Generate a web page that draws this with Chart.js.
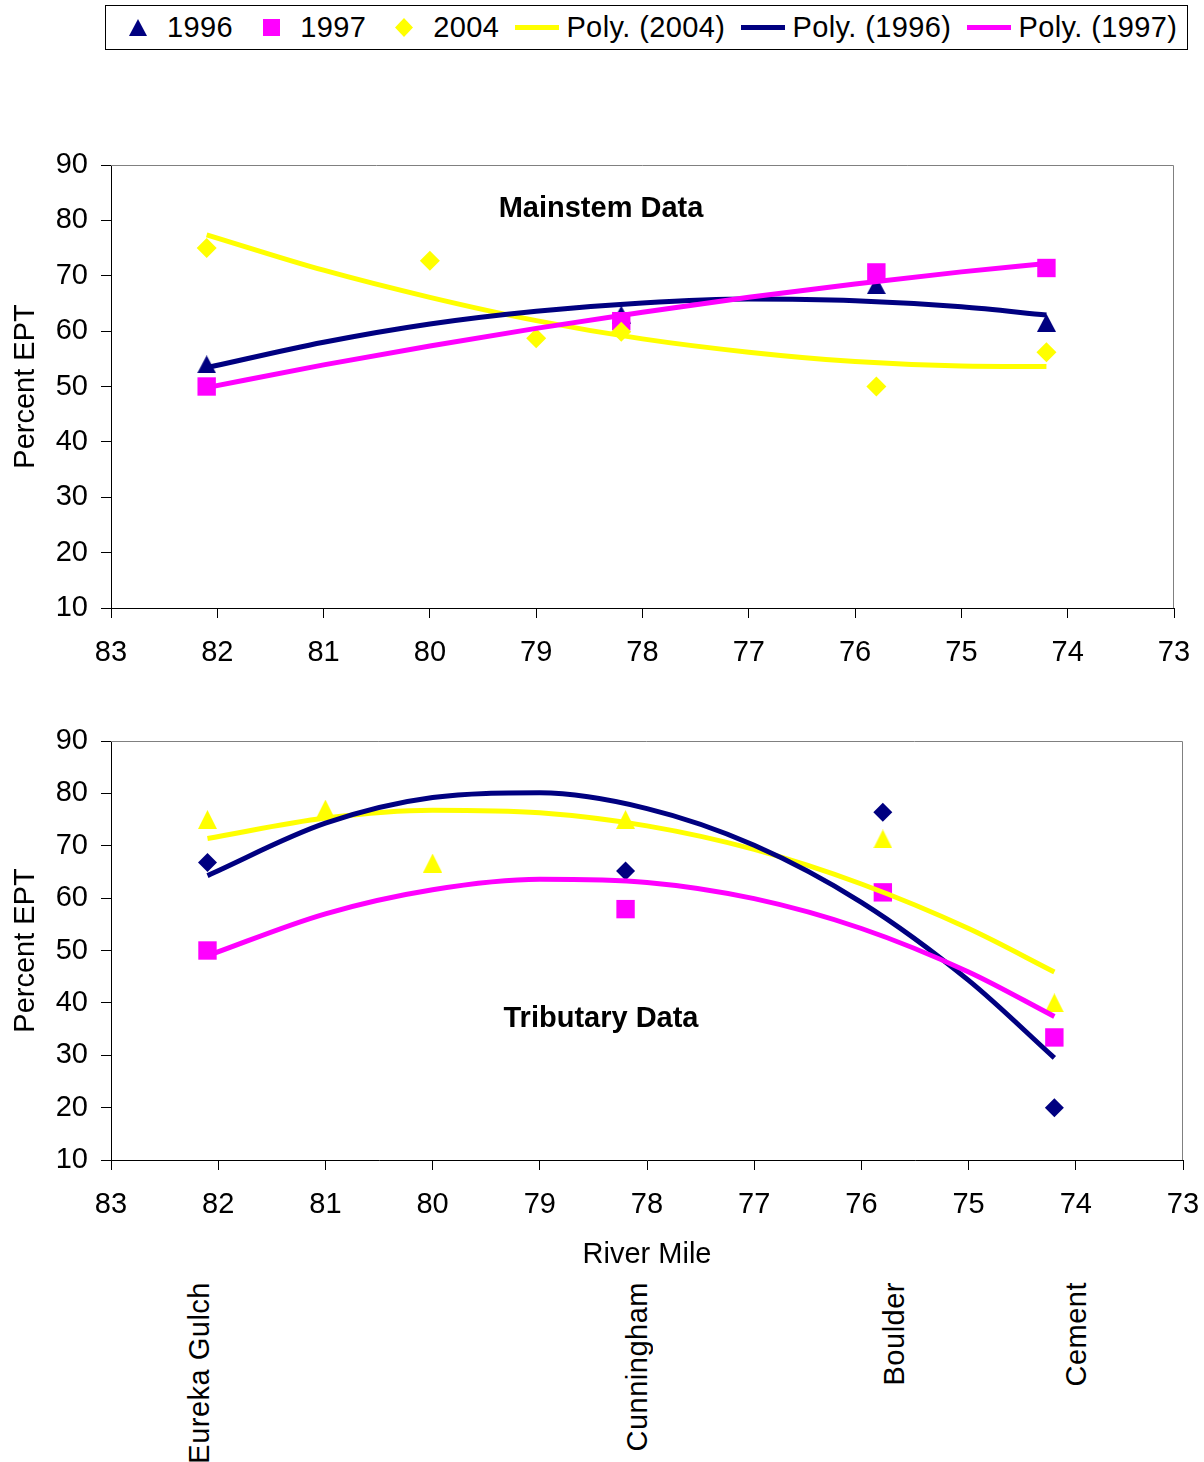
<!DOCTYPE html>
<html>
<head>
<meta charset="utf-8">
<script src="https://cdn.jsdelivr.net/npm/chart.js@4.4.1/dist/chart.umd.min.js"></script>
<style>
  body { margin: 0; width: 1204px; height: 1462px; background: #fff; position: relative; overflow: hidden;
         font-family: "Liberation Sans", Arial, sans-serif; color: #000; }
  canvas { position: absolute; left: 0; }
  #legend { position: absolute; left: 105px; top: 5px; width: 1083px; height: 45px; box-sizing: border-box;
            border: 1px solid #000; display: flex; align-items: center; padding-left: 10px; font-size: 29px;
            letter-spacing: 0.4px; }
  #legend .item { display: flex; align-items: center; margin-right: 16px; white-space: nowrap; }
  #legend svg { margin-right: 7px; }
  .note { position: absolute; transform: translate(-50%, -50%); font-size: 29px; white-space: nowrap; }
  .site { position: absolute; top: 1282px; font-size: 29px; writing-mode: vertical-rl; transform: rotate(180deg);
          white-space: nowrap; letter-spacing: 0.5px; }
</style>
</head>
<body>
<div id="legend"></div>
<canvas id="mainstem" width="1204" height="680" style="top:0"></canvas>
<canvas id="tributary" width="1204" height="560" style="top:680px"></canvas>
<div class="note" style="left:601px; top:207px; font-weight:bold">Mainstem Data</div>
<div class="note" style="left:601px; top:1017px; font-weight:bold">Tributary Data</div>
<div class="note" style="left:647px; top:1253px">River Mile</div>
<div id="sites"></div>

<script>
// river miles for the sampling sites and the trendline read-off points
const siteMiles = [82.1, 78.2, 75.8, 74.2];
const miles2004 = [82.1, 80, 79, 78.2, 75.8, 74.2];
const tribMiles2004 = [82.1, 81, 80, 78.2, 75.8, 74.2];
const trendMiles = [82.1, 81, 80, 79, 78, 77, 76, 75, 74.2];
const sites = ["Eureka Gulch", "Cunningham", "Boulder", "Cement"];

// Mainstem (percent EPT)
const main1996 = [54, 63, 68.3, 61.5];
const main1997 = [50, 61.8, 70.6, 71.4];
const main2004 = [75, 72.7, 58.7, 59.9, 50, 56.2];
const mainPoly2004 = [77.4, 71.0, 66.1, 61.9, 58.6, 56.2, 54.5, 53.7, 53.6];
const mainPoly1996 = [53.4, 58.0, 61.3, 63.6, 65.1, 65.8, 65.5, 64.4, 62.9];
const mainPoly1997 = [49.8, 53.9, 57.3, 60.5, 63.4, 66.1, 68.5, 70.7, 72.2];

// Tributary (percent EPT)
const trib1996 = [66.8, 65.2, 76.4, 20];
const trib1997 = [50, 57.9, 61.1, 33.4];
const trib2004 = [75, 77, 66.7, 75, 71.3, 40];
const tribPoly2004 = [71.4, 75.3, 76.8, 76.3, 73.8, 69.3, 62.7, 54.2, 45.9];
const tribPoly1996 = [64.3, 74.3, 79.2, 80.1, 77.1, 70.1, 59.2, 44.3, 29.5];
const tribPoly1997 = [49.0, 57.0, 61.6, 63.6, 63.0, 59.9, 54.2, 45.9, 37.4];

const yTicks = [10, 20, 30, 40, 50, 60, 70, 80, 90];
const xTicks = [83, 82, 81, 80, 79, 78, 77, 76, 75, 74, 73];

const NAVY = "#000080", PINK = "#FF00FF", YELLOW = "#FFFF00";
const FONT = '"Liberation Sans", Arial, sans-serif';

Chart.defaults.font.family = FONT;
Chart.defaults.font.size = 29;
Chart.defaults.color = "#000";

function pts(xs, ys) {
  return xs.map((x, i) => ({ x: x, y: ys[i] }));
}

// excel-like triangle marker, centred on its box rather than its centroid
function triangleMarker(color, w, h) {
  const c = document.createElement("canvas");
  c.width = w;
  c.height = h;
  const g = c.getContext("2d");
  g.fillStyle = color;
  g.beginPath();
  g.moveTo(w / 2, 0);
  g.lineTo(w, h);
  g.lineTo(0, h);
  g.closePath();
  g.fill();
  return c;
}

function markerSet(label, xs, ys, color, style, radius, order) {
  return {
    label: label, data: pts(xs, ys), order: order,
    pointStyle: style, pointRadius: radius, pointHoverRadius: radius,
    backgroundColor: color, borderColor: color, borderWidth: 0, showLine: false
  };
}

function trendSet(label, ys, color, order) {
  return {
    label: label, data: pts(trendMiles, ys), order: order,
    showLine: true, pointRadius: 0, borderColor: color, borderWidth: 5,
    cubicInterpolationMode: "monotone", fill: false
  };
}

// top and right edges of the plot area
const plotFrame = {
  id: "plotFrame",
  beforeDatasetsDraw(chart) {
    const { ctx, chartArea: a } = chart;
    ctx.save();
    ctx.strokeStyle = "#808080";
    ctx.lineWidth = 1;
    ctx.beginPath();
    ctx.moveTo(a.left, a.top + 0.5);
    ctx.lineTo(a.right - 0.5, a.top + 0.5);
    ctx.lineTo(a.right - 0.5, a.bottom);
    ctx.stroke();
    ctx.restore();
  }
};

function makeChart(id, datasets, pad) {
  new Chart(document.getElementById(id), {
    type: "scatter",
    data: { datasets: datasets },
    plugins: [plotFrame],
    options: {
      responsive: false,
      animation: false,
      devicePixelRatio: 1,
      layout: { padding: pad },
      plugins: { legend: { display: false }, tooltip: { enabled: false } },
      scales: {
        x: {
          type: "linear", reverse: true, min: 73, max: 83,
          afterBuildTicks: s => { s.ticks = xTicks.map(v => ({ value: v })); },
          afterFit: s => { s.height = 62; s.paddingLeft = 0; s.paddingRight = 0; },
          ticks: { padding: 18, maxRotation: 0, autoSkip: false },
          grid: { drawOnChartArea: false, tickLength: 10, color: "#000" },
          border: { color: "#000", width: 1 }
        },
        y: {
          min: 10, max: 90,
          afterBuildTicks: s => { s.ticks = yTicks.map(v => ({ value: v })); },
          afterFit: s => { s.width = 111; s.paddingTop = 0; s.paddingBottom = 0; },
          ticks: { padding: 13 },
          grid: { drawOnChartArea: false, tickLength: 10, color: "#000" },
          border: { color: "#000", width: 1 },
          title: { display: true, text: "Percent EPT", padding: { top: 9, bottom: 0 } }
        }
      }
    }
  });
}

const triNavy = triangleMarker(NAVY, 19, 18);
const triYellow = triangleMarker(YELLOW, 19, 19);

makeChart("mainstem", [
  trendSet("Poly. (1997)", mainPoly1997, PINK, 0),
  trendSet("Poly. (1996)", mainPoly1996, NAVY, 1),
  trendSet("Poly. (2004)", mainPoly2004, YELLOW, 2),
  markerSet("2004", miles2004, main2004, YELLOW, "rectRot", 10, 3),
  markerSet("1997", siteMiles, main1997, PINK, "rect", 13, 4),
  markerSet("1996", siteMiles, main1996, NAVY, triNavy, 10, 5)
], { top: 165, right: 30, bottom: 10, left: 0 });

makeChart("tributary", [
  trendSet("Poly. (1997)", tribPoly1997, PINK, 0),
  trendSet("Poly. (1996)", tribPoly1996, NAVY, 1),
  trendSet("Poly. (2004)", tribPoly2004, YELLOW, 2),
  markerSet("2004", tribMiles2004, trib2004, YELLOW, triYellow, 10, 3),
  markerSet("1997", siteMiles, trib1997, PINK, "rect", 13, 4),
  markerSet("1996", siteMiles, trib1996, NAVY, "rectRot", 9.5, 5)
], { top: 61, right: 21, bottom: 18, left: 0 });

// legend, in the order of the reference
const legendItems = [
  { label: "1996", color: NAVY, shape: "triangle" },
  { label: "1997", color: PINK, shape: "square" },
  { label: "2004", color: YELLOW, shape: "diamond" },
  { label: "Poly. (2004)", color: YELLOW, shape: "line" },
  { label: "Poly. (1996)", color: NAVY, shape: "line" },
  { label: "Poly. (1997)", color: PINK, shape: "line" }
];
const shapes = {
  triangle: c => '<polygon points="22,2 31,19 13,19" fill="' + c + '"/>',
  square: c => '<rect x="14" y="2" width="17" height="17" fill="' + c + '"/>',
  diamond: c => '<polygon points="22,1 31,10.5 22,20 13,10.5" fill="' + c + '"/>',
  line: c => '<rect x="0" y="8" width="44" height="5" fill="' + c + '"/>'
};
const legend = document.getElementById("legend");
legendItems.forEach(it => {
  const d = document.createElement("div");
  d.className = "item";
  d.innerHTML = '<svg width="44" height="21" viewBox="0 0 44 21">' + shapes[it.shape](it.color) + '</svg><span>' + it.label + '</span>';
  legend.appendChild(d);
});

// site names under the lower chart
const siteLabelX = [200, 638, 895, 1077];
const siteBox = document.getElementById("sites");
sites.forEach((name, i) => {
  const d = document.createElement("div");
  d.className = "site";
  d.textContent = name;
  d.style.left = (siteLabelX[i] - 17) + "px";
  siteBox.appendChild(d);
});
</script>
</body>
</html>
